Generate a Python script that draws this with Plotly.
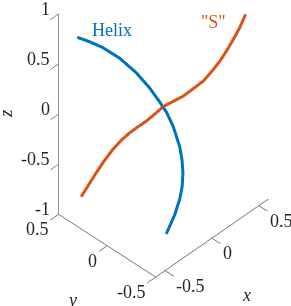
import plotly.graph_objects as go

# Helix
helix_x = [-0.431, -0.324, -0.230, -0.132, -0.057, -0.017, -0.002, -0.001, -0.013, -0.055, -0.097, -0.143, -0.198, -0.267, -0.354, -0.459]
helix_y = [0.471, 0.449, 0.406, 0.328, 0.226, 0.127, 0.038, -0.031, -0.111, -0.221, -0.286, -0.339, -0.385, -0.426, -0.458, -0.473]
helix_z = [0.674, 0.575, 0.484, 0.365, 0.233, 0.118, 0.025, -0.035, -0.115, -0.226, -0.295, -0.360, -0.425, -0.485, -0.565, -0.677]

# "S" curve
s_x = [-0.360, -0.328, -0.296, -0.259, -0.222, -0.187, -0.149, -0.112, -0.075, -0.036, 0.000, 0.036, 0.086, 0.130, 0.174, 0.211, 0.248, 0.277, 0.306, 0.335, 0.360]
s_y = [0.500, 0.455, 0.410, 0.360, 0.309, 0.260, 0.207, 0.155, 0.105, 0.050, 0.000, -0.050, -0.120, -0.180, -0.242, -0.293, -0.344, -0.385, -0.426, -0.465, -0.500]
s_z = [-0.980, -0.855, -0.732, -0.600, -0.481, -0.385, -0.298, -0.228, -0.164, -0.080, 0.000, 0.051, 0.122, 0.205, 0.292, 0.395, 0.509, 0.620, 0.740, 0.865, 1.000]

x_ticks = [-0.5, 0, 0.5]
y_ticks = [-0.5, 0, 0.5]
z_ticks = [-1, -0.5, 0, 0.5, 1]
x_range = [-0.6, 0.6]
y_range = [-0.5, 0.5]
z_range = [-1, 1]

BLUE = "#0072BD"
ORANGE = "#D95319"
TXT = "#262626"
AXC = "#5a5a5a"
FONT = "Liberation Serif"
FS = 18

fig = go.Figure()
fig.add_trace(go.Scatter3d(x=helix_x, y=helix_y, z=helix_z, mode="lines",
                           line=dict(color=BLUE, width=6), showlegend=False, hoverinfo="skip"))
fig.add_trace(go.Scatter3d(x=s_x, y=s_y, z=s_z, mode="lines",
                           line=dict(color=ORANGE, width=6), showlegend=False, hoverinfo="skip"))

def ax(rng, tv):
    return dict(title=dict(text=""), range=rng, tickvals=tv, showticklabels=False,
                showgrid=False, zeroline=False, showbackground=False, showspikes=False,
                showline=True, linecolor=AXC, linewidth=1.5,
                ticks="outside", ticklen=12, tickwidth=1.5, tickcolor=AXC, autorange=False)

def lab(v):
    return f"{v:g}"

annots = []
for v in z_ticks:
    annots.append(dict(x=x_range[0], y=y_range[1], z=v, text=lab(v), showarrow=False,
                       xanchor="right", yanchor="middle", xshift=-7, yshift=5,
                       font=dict(family=FONT, size=FS, color=TXT)))
for v in y_ticks:
    annots.append(dict(x=x_range[0], y=v, z=z_range[0], text=lab(v), showarrow=False,
                       xanchor="right", yanchor="middle", xshift=-8, yshift=-15,
                       font=dict(family=FONT, size=FS, color=TXT)))
for v in x_ticks:
    annots.append(dict(x=v, y=y_range[0], z=z_range[0], text=lab(v), showarrow=False,
                       xanchor="left", yanchor="middle", xshift=9, yshift=-15,
                       font=dict(family=FONT, size=FS, color=TXT)))
annots.append(dict(x=x_range[0], y=y_range[1], z=0, text="<i>z</i>", showarrow=False,
                   textangle=-90, xshift=-53, yshift=0, font=dict(family=FONT, size=FS, color=TXT)))
annots.append(dict(x=x_range[0], y=0, z=z_range[0], text="<i>y</i>", showarrow=False,
                   xshift=-35, yshift=-54, font=dict(family=FONT, size=FS, color=TXT)))
annots.append(dict(x=0, y=y_range[0], z=z_range[0], text="<i>x</i>", showarrow=False,
                   xshift=35, yshift=-57, font=dict(family=FONT, size=FS, color=TXT)))
annots.append(dict(x=helix_x[0], y=helix_y[0], z=helix_z[0], text="Helix", showarrow=False,
                   xshift=35, yshift=7, font=dict(family=FONT, size=FS, color=BLUE)))
annots.append(dict(x=s_x[-1], y=s_y[-1], z=s_z[-1], text='"S"', showarrow=False,
                   xshift=-32, yshift=-8, font=dict(family=FONT, size=FS, color=ORANGE)))

# view: azimuth ~ -46 deg, elevation ~ 42 deg (orthographic)
d = (-0.534, -0.516, 0.669)
L = 2.0
zoom = 0.882  # orthographic zoom is set through the aspect ratio
center = (-0.2581 * zoom, -0.0648 * zoom, -0.2562 * zoom)

fig.update_layout(
    width=291, height=306,
    margin=dict(l=0, r=0, t=0, b=0),
    paper_bgcolor="white",
    scene=dict(
        domain=dict(x=[0, 1], y=[0, 1]),
        xaxis=ax(x_range, x_ticks),
        yaxis=ax(y_range, y_ticks),
        zaxis=ax(z_range, z_ticks),
        aspectmode="manual",
        aspectratio=dict(x=1.2 * zoom, y=1.0 * zoom, z=2.0 * zoom),
        camera=dict(projection=dict(type="orthographic"),
                    eye=dict(x=center[0] + d[0] * L, y=center[1] + d[1] * L, z=center[2] + d[2] * L),
                    up=dict(x=0, y=0, z=1),
                    center=dict(x=center[0], y=center[1], z=center[2])),
        annotations=annots,
    ),
)

fig.write_html("out.html", config=dict(displayModeBar=False),
               post_script="document.body.style.margin='0px';document.body.style.overflow='hidden';")
